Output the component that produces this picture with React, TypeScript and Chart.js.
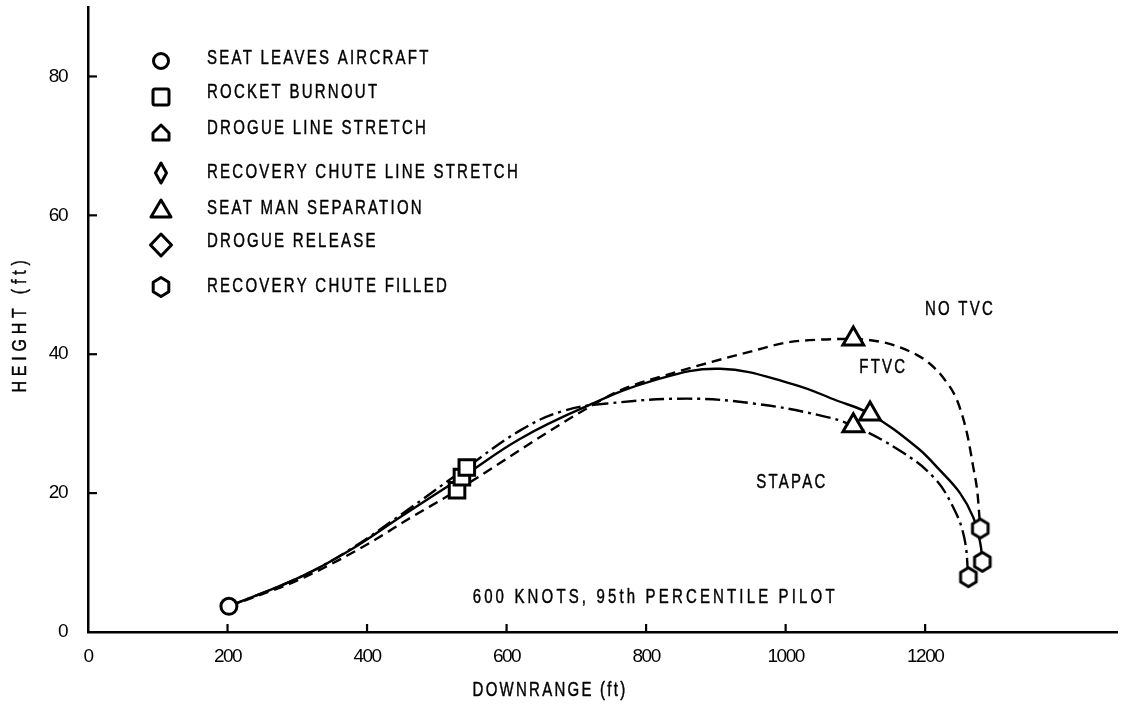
import React, { useEffect, useRef } from 'react';
import { Chart, registerables } from 'chart.js';
Chart.register(...registerables);

const FONT = '"Liberation Sans", Arimo, Arial, sans-serif';
const SX = 0.75; // horizontal squeeze for the narrow lettering

// NO TVC (dashed)
const noTvcX = [202, 304, 400, 460, 529, 658, 710, 763, 849, 954, 1002, 1049, 1097, 1145, 1166, 1188, 1206, 1226, 1246, 1260, 1269, 1275, 1279];
const noTvcY = [3.7, 7.6, 12.6, 16.3, 20.4, 28.7, 31.9, 34.8, 37.6, 40.5, 41.7, 42.1, 42.2, 41.6, 40.9, 39.9, 38.7, 36.6, 33.3, 28.6, 23.7, 20.0, 14.9];
// FTVC (solid)
const ftvcX = [202, 304, 376, 450, 536, 619, 710, 810, 906, 1010, 1074, 1121, 1188, 1221, 1250, 1269, 1279, 1282];
const ftvcY = [3.7, 7.9, 11.8, 16.7, 22.3, 27.8, 32.3, 36.2, 37.9, 35.7, 33.3, 31.4, 26.6, 23.3, 20.0, 16.5, 12.8, 10.1];
// STAPAC (dash-dot)
const stapacX = [202, 304, 376, 450, 543, 619, 680, 744, 859, 954, 1049, 1097, 1164, 1212, 1240, 1256, 1262];
const stapacY = [3.7, 7.9, 11.9, 17.0, 23.7, 29.0, 31.8, 32.9, 33.6, 32.9, 31.2, 29.7, 26.1, 22.3, 18.0, 13.6, 7.9];

// event markers
const seatLeavesX = [202];
const seatLeavesY = [3.7];
const burnoutX = [529, 536, 543];
const burnoutY = [20.4, 22.3, 23.7];
const separationX = [1097, 1121, 1097];
const separationY = [42.2, 31.4, 29.7];
const chuteFilledX = [1279, 1282, 1262];
const chuteFilledY = [14.9, 10.1, 7.9];

const xTicks = [0, 200, 400, 600, 800, 1000, 1200];
const yTicks = [0, 20, 40, 60, 80];

const legendLabels = [
  'SEAT LEAVES AIRCRAFT',
  'ROCKET BURNOUT',
  'DROGUE LINE STRETCH',
  'RECOVERY CHUTE LINE STRETCH',
  'SEAT MAN SEPARATION',
  'DROGUE RELEASE',
  'RECOVERY CHUTE FILLED',
];
const legendShapes = ['circle', 'square', 'house', 'narrowDiamond', 'triangle', 'diamond', 'hexagon'];
const curveLabels = ['NO TVC', 'FTVC', 'STAPAC'];
const noteText = '600 KNOTS, 95th PERCENTILE PILOT';
const xTitle = 'DOWNRANGE (ft)';
const yTitle = 'HEIGHT (ft)';

const zip = (xs: number[], ys: number[]) => xs.map((x, i) => ({ x, y: ys[i] }));

function shapePath(ctx: CanvasRenderingContext2D, kind: string, x: number, y: number) {
  ctx.beginPath();
  if (kind === 'circle') {
    ctx.arc(x, y, 7.5, 0, Math.PI * 2);
  } else if (kind === 'square') {
    const s = 8;
    if ((ctx as any).roundRect) (ctx as any).roundRect(x - s, y - s, 2 * s, 2 * s, 2);
    else ctx.rect(x - s, y - s, 2 * s, 2 * s);
  } else if (kind === 'house') {
    ctx.moveTo(x - 8, y + 7);
    ctx.lineTo(x + 8, y + 7);
    ctx.lineTo(x + 8, y);
    ctx.lineTo(x, y - 8);
    ctx.lineTo(x - 8, y);
    ctx.closePath();
  } else if (kind === 'narrowDiamond') {
    ctx.moveTo(x, y - 10);
    ctx.lineTo(x + 5.5, y);
    ctx.lineTo(x, y + 10);
    ctx.lineTo(x - 5.5, y);
    ctx.closePath();
  } else if (kind === 'triangle') {
    ctx.moveTo(x, y - 9);
    ctx.lineTo(x + 10, y + 8);
    ctx.lineTo(x - 10, y + 8);
    ctx.closePath();
  } else if (kind === 'diamond') {
    ctx.moveTo(x, y - 11);
    ctx.lineTo(x + 10.5, y);
    ctx.lineTo(x, y + 11);
    ctx.lineTo(x - 10.5, y);
    ctx.closePath();
  } else if (kind === 'hexagon') {
    for (let k = 0; k < 6; k++) {
      const a = -Math.PI / 2 + (k * Math.PI) / 3;
      const px = x + 9 * Math.cos(a);
      const py = y + 9.5 * Math.sin(a);
      if (k === 0) ctx.moveTo(px, py);
      else ctx.lineTo(px, py);
    }
    ctx.closePath();
  }
  ctx.fillStyle = '#fff';
  ctx.fill();
  ctx.lineWidth = 3;
  ctx.strokeStyle = '#000';
  ctx.lineJoin = 'round';
  ctx.stroke();
}

function makeHexagon(): HTMLCanvasElement {
  const c = document.createElement('canvas');
  c.width = 24;
  c.height = 24;
  const ctx = c.getContext('2d')!;
  shapePath(ctx, 'hexagon', 12, 12);
  return c;
}

function drawNarrow(
  ctx: CanvasRenderingContext2D,
  text: string,
  x: number,
  y: number,
  align: CanvasTextAlign,
  spacing = 3,
  sx = SX
) {
  ctx.save();
  ctx.translate(x, y);
  ctx.scale(sx, 1);
  (ctx as any).letterSpacing = `${spacing}px`;
  ctx.textAlign = align;
  ctx.fillStyle = '#000';
  ctx.strokeStyle = '#000';
  ctx.lineWidth = 0.45;
  ctx.fillText(text, 0, 0);
  ctx.strokeText(text, 0, 0);
  ctx.restore();
}

const zeroPad = (s: any) => {
  s.paddingTop = 0;
  s.paddingBottom = 0;
  s.paddingLeft = 0;
  s.paddingRight = 0;
};

const decorPlugin = {
  id: 'decor',
  beforeDraw(chart: any) {
    chart.ctx.letterSpacing = '-1.5px';
  },
  afterDraw(chart: any) {
    const ctx: CanvasRenderingContext2D = chart.ctx;
    const xs = chart.scales.x;
    const ys = chart.scales.y;
    const area = chart.chartArea;
    ctx.save();
    // inward tick marks
    ctx.strokeStyle = '#000';
    ctx.lineWidth = 2.2;
    xTicks.forEach((v) => {
      if (v === 0) return;
      const px = xs.getPixelForValue(v);
      ctx.beginPath();
      ctx.moveTo(px, area.bottom);
      ctx.lineTo(px, area.bottom - 8);
      ctx.stroke();
    });
    yTicks.forEach((v) => {
      if (v === 0) return;
      const py = ys.getPixelForValue(v);
      ctx.beginPath();
      ctx.moveTo(area.left, py);
      ctx.lineTo(area.left + 9, py);
      ctx.stroke();
    });

    ctx.font = `20px ${FONT}`;
    ctx.textBaseline = 'middle';

    // legend
    const legendX = 161;
    const markerRows = [61, 97, 133, 173, 209, 245, 287];
    const textRows = [58, 92, 128, 172, 208, 241, 286];
    legendLabels.forEach((lab, i) => {
      shapePath(ctx, legendShapes[i], legendX, markerRows[i]);
      drawNarrow(ctx, lab, 207, textRows[i], 'left');
    });

    // curve labels
    const labelPos = [
      [1250, 46.5],
      [1140, 38.1],
      [1009, 21.5],
    ];
    curveLabels.forEach((lab, i) => {
      drawNarrow(ctx, lab, xs.getPixelForValue(labelPos[i][0]), ys.getPixelForValue(labelPos[i][1]), 'center');
    });
    drawNarrow(ctx, noteText, xs.getPixelForValue(813), ys.getPixelForValue(5.0), 'center', 4.2);

    // axis titles
    drawNarrow(ctx, xTitle, 550, 690, 'center');
    ctx.translate(20, 324);
    ctx.rotate(-Math.PI / 2);
    drawNarrow(ctx, yTitle, 0, 0, 'center', 6, 0.8);
    ctx.restore();
  },
};

export default function App() {
  const ref = useRef<HTMLCanvasElement>(null);
  useEffect(() => {
    document.body.style.margin = '0';
    document.body.style.overflow = 'hidden';
    const hex = makeHexagon();
    const lineBase = {
      showLine: true,
      pointRadius: 0,
      pointHoverRadius: 0,
      borderColor: '#000',
      borderWidth: 2.4,
      tension: 0.4,
      fill: false,
      order: 2,
    };
    const markerBase = {
      showLine: false,
      borderColor: '#000',
      backgroundColor: '#fff',
      pointBorderWidth: 3,
      order: 0,
    };
    const chart = new Chart(ref.current!, {
      type: 'scatter',
      data: {
        datasets: [
          { ...markerBase, label: legendLabels[0], data: zip(seatLeavesX, seatLeavesY), pointStyle: 'circle', pointRadius: 8 },
          { ...markerBase, label: legendLabels[1], data: zip(burnoutX, burnoutY), pointStyle: 'rect', pointRadius: 11 },
          { ...markerBase, label: legendLabels[4], data: zip(separationX, separationY), pointStyle: 'triangle', pointRadius: 12 },
          { ...markerBase, label: legendLabels[6], data: zip(chuteFilledX, chuteFilledY), pointStyle: hex as any, pointRadius: 12 },
          { ...lineBase, label: curveLabels[0], data: zip(noTvcX, noTvcY), borderDash: [10, 6], cubicInterpolationMode: 'monotone' },
          { ...lineBase, label: curveLabels[1], data: zip(ftvcX, ftvcY) },
          { ...lineBase, label: curveLabels[2], data: zip(stapacX, stapacY), borderDash: [15, 5, 3, 5] },
        ] as any,
      },
      options: {
        responsive: false,
        animation: false,
        devicePixelRatio: 1,
        layout: { autoPadding: false, padding: { top: 7, right: 4, left: 0, bottom: 0 } },
        plugins: { legend: { display: false }, tooltip: { enabled: false } },
        events: [],
        scales: {
          x: {
            type: 'linear',
            min: 0,
            max: 1475,
            afterFit: (s: any) => {
              s.height = 72;
              zeroPad(s);
            },
            afterBuildTicks: (s: any) => {
              s.ticks = xTicks.map((v) => ({ value: v }));
            },
            grid: { display: false, drawTicks: false },
            border: { display: true, color: '#000', width: 2.5 },
            ticks: {
              color: '#000',
              font: { family: FONT, size: 19 },
              padding: 13,
              maxRotation: 0,
              autoSkip: false,
              callback: (v: any) => String(v),
            },
          },
          y: {
            type: 'linear',
            min: 0,
            max: 90,
            afterFit: (s: any) => {
              s.width = 88;
              zeroPad(s);
            },
            afterBuildTicks: (s: any) => {
              s.ticks = yTicks.map((v) => ({ value: v }));
            },
            grid: { display: false, drawTicks: false },
            border: { display: true, color: '#000', width: 2.5 },
            ticks: {
              color: '#000',
              font: { family: FONT, size: 19 },
              padding: 21,
              autoSkip: false,
              callback: (v: any) => String(v),
            },
          },
        },
      } as any,
      plugins: [decorPlugin],
    });
    return () => chart.destroy();
  }, []);
  return (
    <div style={{ width: 1121, height: 704, background: '#fff' }}>
      <canvas ref={ref} width={1121} height={704} style={{ display: 'block' }} />
    </div>
  );
}
